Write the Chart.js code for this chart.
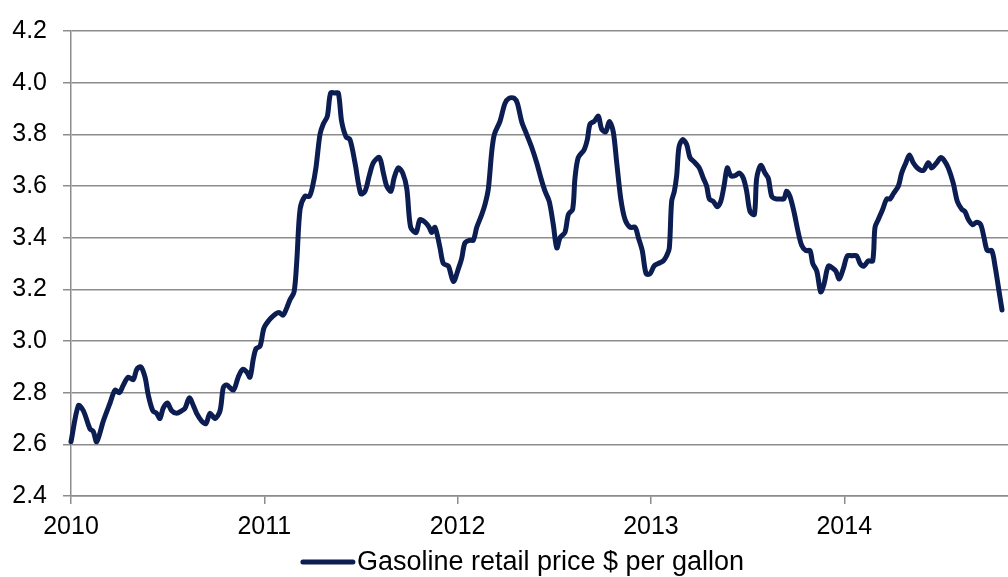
<!DOCTYPE html>
<html>
<head>
<meta charset="utf-8">
<script src="https://cdn.jsdelivr.net/npm/chart.js@4.4.1/dist/chart.umd.min.js"></script>
<style>
  html, body { margin: 0; padding: 0; background: #fff; }
  #wrap { width: 1008px; height: 577px; position: relative; }
</style>
</head>
<body>
<div id="wrap"><canvas id="gasChart" width="1008" height="577"></canvas></div>
<script>
// Weekly dates as fractional years
const weekDates = [
  2010.000, 2010.038, 2010.064, 2010.098, 2010.115, 2010.133, 2010.167, 2010.202, 2010.228, 2010.250,
  2010.271, 2010.296, 2010.322, 2010.340, 2010.361, 2010.383, 2010.400, 2010.423, 2010.443, 2010.460,
  2010.477, 2010.498, 2010.521, 2010.547, 2010.573, 2010.590, 2010.612, 2010.633, 2010.650, 2010.676,
  2010.698, 2010.719, 2010.745, 2010.771, 2010.788, 2010.805, 2010.840, 2010.865, 2010.888, 2010.909,
  2010.926, 2010.943, 2010.957, 2010.978, 2010.998, 2011.024, 2011.050, 2011.076, 2011.097, 2011.117,
  2011.133, 2011.154, 2011.168, 2011.185, 2011.210, 2011.233, 2011.250, 2011.267, 2011.288, 2011.305,
  2011.326, 2011.343, 2011.366, 2011.383, 2011.400, 2011.423, 2011.443, 2011.469, 2011.499, 2011.521,
  2011.543, 2011.564, 2011.595, 2011.616, 2011.633, 2011.655, 2011.671, 2011.693, 2011.716, 2011.737,
  2011.757, 2011.785, 2011.805, 2011.831, 2011.853, 2011.866, 2011.883, 2011.909, 2011.926, 2011.952,
  2011.978, 2012.004, 2012.021, 2012.038, 2012.064, 2012.081, 2012.099, 2012.125, 2012.142, 2012.159,
  2012.176, 2012.190, 2012.219, 2012.245, 2012.267, 2012.292, 2012.309, 2012.331, 2012.357, 2012.383,
  2012.409, 2012.431, 2012.452, 2012.474, 2012.495, 2012.513, 2012.530, 2012.555, 2012.573, 2012.595,
  2012.607, 2012.624, 2012.654, 2012.671, 2012.685, 2012.706, 2012.728, 2012.745, 2012.766, 2012.785,
  2012.805, 2012.823, 2012.844, 2012.866, 2012.892, 2012.918, 2012.935, 2012.955, 2012.975, 2012.995,
  2013.016, 2013.038, 2013.064, 2013.081, 2013.095, 2013.107, 2013.121, 2013.133, 2013.145, 2013.164,
  2013.185, 2013.202, 2013.228, 2013.250, 2013.271, 2013.288, 2013.302, 2013.323, 2013.343, 2013.361,
  2013.378, 2013.395, 2013.413, 2013.435, 2013.457, 2013.478, 2013.495, 2013.513, 2013.535, 2013.547,
  2013.568, 2013.590, 2013.607, 2013.625, 2013.647, 2013.668, 2013.688, 2013.702, 2013.719, 2013.740,
  2013.762, 2013.780, 2013.802, 2013.823, 2013.837, 2013.858, 2013.878, 2013.895, 2013.918, 2013.943,
  2013.957, 2013.974, 2013.995, 2014.016, 2014.039, 2014.064, 2014.082, 2014.102, 2014.124, 2014.147,
  2014.159, 2014.176, 2014.199, 2014.220, 2014.237, 2014.254, 2014.280, 2014.297, 2014.319, 2014.337,
  2014.357, 2014.378, 2014.409, 2014.435, 2014.452, 2014.478, 2014.499, 2014.516, 2014.538, 2014.564,
  2014.585, 2014.608, 2014.625, 2014.642, 2014.664, 2014.685, 2014.706, 2014.723, 2014.740, 2014.763,
  2014.780, 2014.797, 2014.816
];

// Gasoline retail price, $ per gallon
const gasPrices = [
  2.61, 2.75, 2.73, 2.66, 2.65, 2.61, 2.69, 2.76, 2.81, 2.80,
  2.83, 2.86, 2.85, 2.89, 2.90, 2.86, 2.79, 2.73, 2.72, 2.70,
  2.74, 2.76, 2.73, 2.72, 2.73, 2.74, 2.78, 2.75, 2.72, 2.69,
  2.68, 2.72, 2.70, 2.73, 2.82, 2.83, 2.81, 2.86, 2.89, 2.88,
  2.86, 2.93, 2.97, 2.98, 3.05, 3.08, 3.10, 3.11, 3.10, 3.13,
  3.16, 3.19, 3.31, 3.51, 3.56, 3.56, 3.60, 3.67, 3.80, 3.84,
  3.87, 3.96, 3.96, 3.96, 3.85, 3.79, 3.78, 3.69, 3.57, 3.58,
  3.64, 3.69, 3.71, 3.65, 3.60, 3.58, 3.63, 3.67, 3.65, 3.59,
  3.44, 3.42, 3.47, 3.46, 3.44, 3.42, 3.44, 3.36, 3.30, 3.29,
  3.23, 3.28, 3.32, 3.38, 3.39, 3.39, 3.44, 3.49, 3.53, 3.59,
  3.73, 3.80, 3.85, 3.92, 3.94, 3.94, 3.92, 3.85, 3.80, 3.75,
  3.69, 3.63, 3.58, 3.54, 3.45, 3.36, 3.40, 3.42, 3.49, 3.51,
  3.63, 3.71, 3.74, 3.78, 3.84, 3.85, 3.87, 3.82, 3.81, 3.85,
  3.81, 3.69, 3.55, 3.47, 3.44, 3.44, 3.40, 3.35, 3.26, 3.26,
  3.29, 3.30, 3.31, 3.33, 3.36, 3.54, 3.58, 3.64, 3.75, 3.78,
  3.76, 3.71, 3.69, 3.67, 3.63, 3.60, 3.55, 3.54, 3.52, 3.54,
  3.60, 3.67, 3.64, 3.64, 3.65, 3.63, 3.58, 3.50, 3.49, 3.63,
  3.68, 3.65, 3.63, 3.56, 3.55, 3.55, 3.55, 3.58, 3.56, 3.50,
  3.42, 3.37, 3.35, 3.35, 3.30, 3.27, 3.19, 3.22, 3.29, 3.28,
  3.27, 3.24, 3.28, 3.33, 3.33, 3.33, 3.30, 3.29, 3.31, 3.31,
  3.44, 3.47, 3.51, 3.55, 3.55, 3.57, 3.60, 3.65, 3.69, 3.72,
  3.69, 3.67, 3.66, 3.69, 3.67, 3.69, 3.71, 3.70, 3.67, 3.61,
  3.54, 3.51, 3.50, 3.47, 3.45, 3.46, 3.45, 3.40, 3.35, 3.35,
  3.29, 3.21, 3.12
];

const yearTicks = [2010, 2011, 2012, 2013, 2014];
const priceTicks = [2.4, 2.6, 2.8, 3.0, 3.2, 3.4, 3.6, 3.8, 4.0, 4.2];
const seriesLabel = 'Gasoline retail price $ per gallon';

const lineColor = '#0c1d52';
const gridColor = '#8c8c8c';
const fontFamily = '"Liberation Sans", Arial, sans-serif';

// Legend drawn under the axis, roughly centred on the plot area
const bottomLegend = {
    id: 'bottomLegend',
    afterDraw(chart) {
        const { ctx, chartArea } = chart;
        ctx.save();
        ctx.font = '27px ' + fontFamily;
        const textW = ctx.measureText(seriesLabel).width;
        const lineW = 50;
        const gap = 4;
        const total = lineW + gap + textW;
        const x0 = (chartArea.left + chartArea.right) / 2 - total / 2 - 16;
        const y = 562;
        ctx.strokeStyle = lineColor;
        ctx.lineWidth = 5;
        ctx.lineCap = 'round';
        ctx.beginPath();
        ctx.moveTo(x0, y);
        ctx.lineTo(x0 + lineW, y);
        ctx.stroke();
        ctx.fillStyle = '#000';
        ctx.textBaseline = 'middle';
        ctx.fillText(seriesLabel, x0 + lineW + gap, y + 1);
        ctx.restore();
    }
};

new Chart(document.getElementById('gasChart'), {
    type: 'line',
    data: {
        datasets: [{
            label: seriesLabel,
            data: weekDates.map((d, i) => ({ x: d, y: gasPrices[i] })),
            borderColor: lineColor,
            borderWidth: 5,
            pointRadius: 0,
            tension: 0.3,
            borderCapStyle: 'round',
            borderJoinStyle: 'round',
            clip: false
        }]
    },
    options: {
        responsive: false,
        animation: false,
        layout: { padding: { top: 14, right: 0, left: 0, bottom: 0 } },
        plugins: {
            legend: { display: false },
            tooltip: { enabled: false }
        },
        scales: {
            x: {
                type: 'linear',
                min: 2010,
                max: 2014.847,
                afterBuildTicks: scale => { scale.ticks = yearTicks.map(v => ({ value: v })); },
                afterFit: scale => { scale.height = 81; },
                grid: { drawOnChartArea: false, drawTicks: true, tickLength: 8, color: gridColor, lineWidth: 1.5 },
                border: { color: gridColor, width: 1.5 },
                ticks: {
                    color: '#000',
                    font: { family: fontFamily, size: 25 },
                    padding: 8,
                    maxRotation: 0,
                    callback: v => String(v)
                }
            },
            y: {
                min: 2.4,
                max: 4.2,
                afterBuildTicks: scale => { scale.ticks = priceTicks.map(v => ({ value: v })); },
                afterFit: scale => { scale.width = 71; },
                grid: { drawTicks: true, tickLength: 8, color: gridColor, lineWidth: 1.5 },
                border: { color: gridColor, width: 1.5 },
                ticks: {
                    color: '#000',
                    font: { family: fontFamily, size: 25 },
                    padding: 16,
                    callback: v => v.toFixed(1)
                }
            }
        }
    },
    plugins: [bottomLegend]
});
</script>
</body>
</html>
